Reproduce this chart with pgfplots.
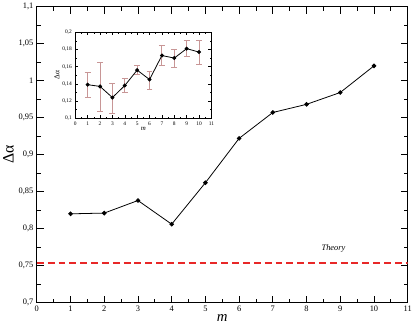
\documentclass[border=0pt]{standalone}
\usepackage{fontspec}
\setmainfont{Liberation Serif}
\usepackage{pgfplots}
\pgfplotsset{compat=1.18}
\definecolor{errc}{RGB}{200,150,150}
\definecolor{theory}{RGB}{232,40,40}
\begin{document}
\begin{tikzpicture}
\begin{axis}[
  scale only axis, width=376pt, height=300pt,
  xmin=0, xmax=11, ymin=0.7, ymax=1.1,
  xtick={0,1,2,3,4,5,6,7,8,9,10,11},
  ytick={0.7,0.75,0.8,0.85,0.9,0.95,1,1.05,1.1},
  minor x tick num=1, minor y tick num=1,
  tick align=inside, major tick length=7pt, minor tick length=4pt,
  tick style={black, line width=0.7pt},
  axis line style={line width=0.9pt},
  ticklabel style={font=\fontsize{8.5}{9}\selectfont},
  /pgf/number format/.cd, use comma, fixed, assume math mode=true, /pgfplots/.cd,
  xlabel={\fontsize{15}{15}\selectfont\itshape m},
  ylabel={\fontsize{16}{16}\selectfont Δα},
  xlabel style={yshift=4pt},
  ylabel style={yshift=-2pt},
]
\addplot[black, line width=0.8pt, mark=*, mark size=1.9pt] coordinates {
  (1,0.820) (2,0.821) (3,0.838) (4,0.806) (5,0.862)
  (6,0.922) (7,0.957) (8,0.968) (9,0.984) (10,1.020)};
\addplot[theory, line width=2pt, dash pattern=on 7pt off 4pt] coordinates {(0,0.754) (11,0.754)};
\node[font=\fontsize{8.5}{9}\selectfont\itshape] at (axis cs:8.8,0.773) {Theory};
\end{axis}
\begin{axis}[
  at={(39pt,187pt)}, anchor=south west,
  scale only axis, width=138pt, height=87pt,
  axis background/.style={fill=white},
  xmin=0, xmax=11, ymin=0.1, ymax=0.2,
  xtick={0,1,2,3,4,5,6,7,8,9,10,11},
  ytick={0.1,0.12,0.14,0.16,0.18,0.2},
  minor x tick num=1, minor y tick num=1,
  tick align=inside, major tick length=3pt, minor tick length=1.5pt,
  tick style={black, line width=0.5pt},
  axis line style={line width=0.8pt},
  ticklabel style={font=\fontsize{5.5}{6}\selectfont},
  /pgf/number format/.cd, use comma, fixed, assume math mode=true, /pgfplots/.cd,
  xlabel={\fontsize{7}{7}\selectfont\itshape m},
  ylabel={\fontsize{7.5}{7.5}\selectfont Δα},
  xlabel style={yshift=5pt},
  ylabel style={yshift=-4pt},
]
\addplot[errc, mark=none, draw=none,
  error bars/.cd, y dir=both, y explicit,
  error bar style={draw=errc, solid, line width=0.9pt},
  error mark options={draw=errc, rotate=90, mark size=3pt, line width=0.9pt}]
  coordinates {
  (1,0.139) += (0,0.014) -= (0,0.015)
  (2,0.137) += (0,0.028) -= (0,0.029)
  (3,0.124) += (0,0.017) -= (0,0.018)
  (4,0.138) += (0,0.008) -= (0,0.008)
  (5,0.156) += (0,0.006) -= (0,0.005)
  (6,0.145) += (0,0.010) -= (0,0.011)
  (7,0.173) += (0,0.012) -= (0,0.011)
  (8,0.170) += (0,0.010) -= (0,0.011)
  (9,0.181) += (0,0.009) -= (0,0.009)
  (10,0.177) += (0,0.014) -= (0,0.014)};
\addplot[black, line width=0.8pt, mark=*, mark size=1.6pt] coordinates {
  (1,0.139) (2,0.137) (3,0.124) (4,0.138) (5,0.156)
  (6,0.145) (7,0.173) (8,0.170) (9,0.181) (10,0.177)};
\end{axis}
\end{tikzpicture}
\end{document}
